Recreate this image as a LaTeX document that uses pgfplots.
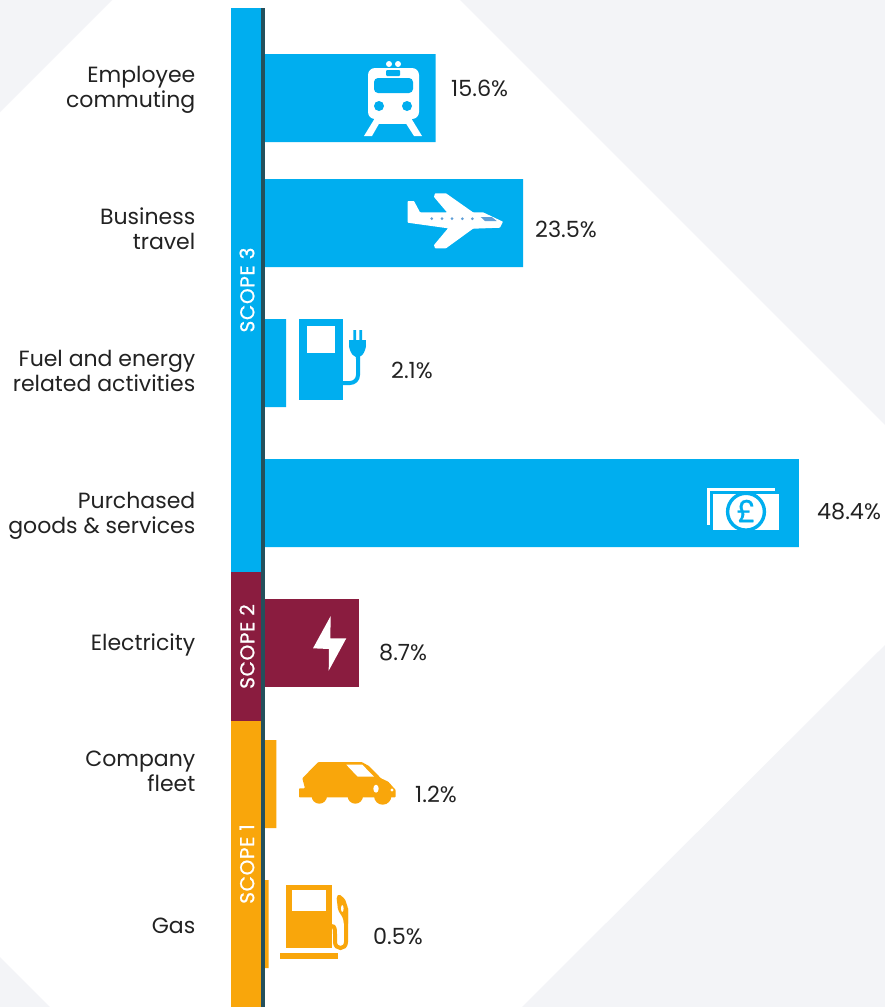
\documentclass[border=0pt]{standalone}
\usepackage{pgfplots}
\pgfplotsset{compat=1.18}
\usepackage{fontspec}
\setmainfont{Poppins}
\definecolor{scopeblue}{HTML}{00AEEF}
\definecolor{scopered}{HTML}{8A1C3F}
\definecolor{scopeorange}{HTML}{F9A60B}
\definecolor{spine}{HTML}{24505C}
\definecolor{paper}{HTML}{F3F4F7}
\definecolor{ink}{HTML}{222222}
\definecolor{planeblue}{HTML}{5F9FD8}
\begin{document}
\begin{tikzpicture}
\useasboundingbox (0pt,0pt) rectangle (885pt,-1007pt);
% page background with grey corners
\begin{scope}[x=1pt,y=-1pt]
\fill[white] (0,0) rectangle (885,1007);
\fill[paper] (0,0) -- (112,0) -- (0,112) -- cycle;
\fill[paper] (460,0) -- (885,0) -- (885,425) -- cycle;
\fill[paper] (885,645) -- (885,1007) -- (522,1007) -- cycle;
\fill[paper] (0,957) -- (50,1007) -- (0,1007) -- cycle;
\end{scope}

\begin{axis}[
  at={(263pt,-1007pt)}, anchor=south west,
  scale only axis, width=622pt, height=999pt,
  xmin=0, xmax=56.19, ymin=8, ymax=1007, y dir=reverse,
  axis x line=none, axis y line=left,
  axis line style={draw=spine, line width=3.6pt, -},
  clip=false, axis on top,
  ytick={90,229,371,516,645,771,926},
  yticklabels={Employee\\commuting,Business\\travel,Fuel and energy\\related activities,Purchased\\goods \& services,Electricity,Company\\fleet,Gas},
  major tick length=0pt,
  yticklabel style={align=right, anchor=east, inner sep=0pt, xshift=-67.5pt,
    font=\fontsize{22}{25}\selectfont, text=ink},
  cat/.style={xbar, bar width=88pt, bar shift=0pt, draw=none},
]
% scope bands along the spine
\addplot[draw=none, fill=scopeblue] coordinates {(-2.89,8) (0,8) (0,572) (-2.89,572)} --cycle;
\addplot[draw=none, fill=scopered] coordinates {(-2.89,572) (0,572) (0,721) (-2.89,721)} --cycle;
\addplot[draw=none, fill=scopeorange] coordinates {(-2.89,721) (0,721) (0,1007) (-2.89,1007)} --cycle;
% emissions by category
\addplot[cat, fill=scopeblue] coordinates {(15.6,98) (23.5,223) (2.1,363) (48.4,503)};
\addplot[cat, fill=scopered] coordinates {(8.7,643)};
\addplot[cat, fill=scopeorange] coordinates {(1.2,784) (0.5,924)};
\end{axis}

\begin{scope}[x=1pt,y=-1pt]
% scope names
\begin{scope}[every node/.style={rotate=90, text=white, inner sep=0pt, font=\fontsize{20}{22}\selectfont\addfontfeatures{LetterSpace=3,FakeBold=0.8}}]
\node at (247,290) {SCOPE 3};
\node at (247,646.5) {SCOPE 2};
\node at (247,864) {SCOPE 1};
\end{scope}

% value labels
\begin{scope}[every node/.style={anchor=west, inner sep=0pt, text=ink, font=\fontsize{22.3}{25}\selectfont}]
\node at (451,88) {15.6\%};
\node at (535,229) {23.5\%};
\node at (391,370) {2.1\%};
\node at (817,512) {48.4\%};
\node at (379,653) {8.7\%};
\node at (415,794) {1.2\%};
\node at (373,936) {0.5\%};
\end{scope}

% train
\fill[white] (364,136) -- (375,118) -- (380,122) -- (372,136) -- cycle;
\fill[white] (422,136) -- (411,118) -- (405,122) -- (414,136) -- cycle;
\fill[white] (376,118) rectangle (410,124);
\fill[white, rounded corners=7pt] (368,68) rectangle (419,119);
\fill[white] (389,64) circle (3) (398,64) circle (3);
\fill[scopeblue, rounded corners=4pt] (374,78) rectangle (413,93);
\fill[scopeblue, rounded corners=1pt] (386,70) rectangle (400,76);
\fill[scopeblue] (379,106) circle (5) (407,106) circle (5);

% aeroplane
\fill[white, rounded corners=0.6pt] (407.7,201) -- (414,201) -- (420,212.3) -- (447,212.3) -- (434,197) -- (435,193.3) -- (446,193.3) -- (473,212.3) -- (483,212.3) -- (503,221.7) -- (500,227.7) -- (473,228.7) -- (446,248.3) -- (435,248.3) -- (434,245) -- (448,228.3) -- (407.7,222.7) -- cycle;
\fill[planeblue] (431.7,218.7) circle (1.5) (442,218.7) circle (1.5) (452,218.7) circle (1.5) (462.3,218.7) circle (1.5) (472.3,218.7) circle (1.5);
\fill[planeblue] (480.7,217) -- (491.7,217) -- (496.7,221) -- (485,221) -- cycle;

% charging point
\fill[scopeblue] (299,319) rectangle (342.7,399.7);
\fill[white] (307.3,326) rectangle (335,353.3);
\draw[scopeblue, line width=4pt] (342.7,383) -- (350,383) arc[start angle=90, end angle=0, radius=8] -- (358,355);
\fill[scopeblue, rounded corners=5pt] (349,340) -- (366,340) -- (366,350) -- (360,358) -- (355,358) -- (349,350) -- cycle;
\fill[scopeblue] (349,340) rectangle (366,345);
\fill[scopeblue] (353.3,330) rectangle (356,341) (359.3,330) rectangle (362,341);

% banknote
\fill[white] (707.3,488.3) rectangle (775,490.5);
\fill[white] (707.3,488.3) rectangle (710,525);
\fill[white] (712.7,494) rectangle (779,530);
\draw[scopeblue, fill=white, line width=3.4pt] (746,511.7) circle (18.4);
\node[text=scopeblue, inner sep=0pt, font=\fontsize{31}{31}\selectfont\addfontfeatures{FakeBold=0.6}] at (746,511) {£};

% lightning bolt
\fill[white] (330.7,616) -- (313,648.3) -- (329,649) -- (328.7,670.7) -- (346.3,638.3) -- (330.3,638.3) -- cycle;

% car
\fill[scopeorange, rounded corners=0.8pt] (299,788.3) -- (305,788.3) -- (302.3,778.3) -- (318.3,762) -- (361.7,762) -- (369,766) -- (381,778.3) -- (388.3,781.7) -- (392.7,786.7) -- (395.7,790) -- (395.7,797.3) -- (299,797.3) -- cycle;
\fill[scopeorange] (319.3,796) circle (7.7) (355.3,796) circle (7.7) (382.7,796) circle (8.7);
\fill[white] (346.3,764.7) -- (362.3,764.7) -- (374,776.7) -- (357.7,776.7) -- cycle;
\fill[white] (376,788.7) ellipse (2.7 and 4);
\fill[white] (392,790) circle (1.6);

% fuel pump
\fill[scopeorange] (286.3,885) rectangle (331.7,948.3);
\fill[white] (292.3,890.3) rectangle (325.7,911);
\fill[scopeorange] (280,953) rectangle (337.7,958.7);
\draw[scopeorange, line width=4pt] (331.7,926) .. controls (335,926) and (335,930) .. (335,934) -- (335,942) .. controls (335,950) and (346,950) .. (346,942) -- (346,908);
\fill[scopeorange, rounded corners=1.5pt] (336.5,897) -- (339,894) -- (345,899) -- (348,908) -- (348,925) -- (344,925) -- (343,918) -- (338,910) -- cycle;
\fill[white] (342.3,908.5) ellipse (1.3 and 3.4);
\end{scope}
\end{tikzpicture}
\end{document}
